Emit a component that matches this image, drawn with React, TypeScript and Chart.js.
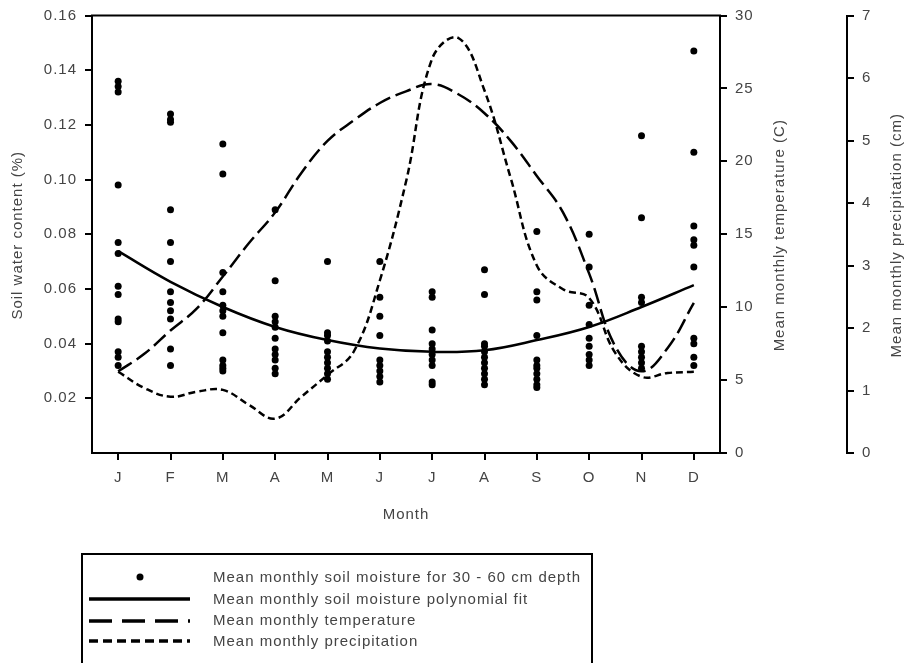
import React, { useEffect, useRef } from "react";
import { Chart, registerables } from "chart.js";

Chart.register(...registerables);

// ---------- data ----------
const monthLabels = ["J", "F", "M", "A", "M", "J", "J", "A", "S", "O", "N", "D"];

// soil moisture observations (30-60 cm) per month
const soilJan = [0.136, 0.134, 0.132, 0.098, 0.077, 0.073, 0.061, 0.058, 0.049, 0.048, 0.037, 0.035, 0.032];
const soilFeb = [0.124, 0.122, 0.121, 0.089, 0.077, 0.070, 0.059, 0.055, 0.052, 0.049, 0.038, 0.032];
const soilMar = [0.113, 0.102, 0.066, 0.059, 0.054, 0.052, 0.050, 0.044, 0.034, 0.032, 0.031, 0.030];
const soilApr = [0.089, 0.063, 0.050, 0.048, 0.046, 0.042, 0.038, 0.036, 0.034, 0.031, 0.029];
const soilMay = [0.070, 0.044, 0.043, 0.041, 0.037, 0.035, 0.033, 0.031, 0.029, 0.027];
const soilJun = [0.070, 0.057, 0.050, 0.043, 0.034, 0.032, 0.030, 0.028, 0.026];
const soilJul = [0.059, 0.057, 0.045, 0.040, 0.038, 0.036, 0.034, 0.032, 0.026, 0.025];
const soilAug = [0.067, 0.058, 0.040, 0.039, 0.037, 0.035, 0.033, 0.031, 0.029, 0.027, 0.025];
const soilSep = [0.081, 0.059, 0.056, 0.043, 0.034, 0.032, 0.031, 0.029, 0.027, 0.025, 0.024];
const soilOct = [0.080, 0.068, 0.054, 0.047, 0.042, 0.039, 0.036, 0.034, 0.032];
const soilNov = [0.116, 0.086, 0.057, 0.055, 0.039, 0.037, 0.035, 0.033, 0.031];
const soilDec = [0.147, 0.110, 0.083, 0.078, 0.076, 0.068, 0.042, 0.040, 0.035, 0.032];
const soilByMonth = [soilJan, soilFeb, soilMar, soilApr, soilMay, soilJun, soilJul, soilAug, soilSep, soilOct, soilNov, soilDec];

// polynomial fit of soil moisture, one value per month
const fitValues = [0.0738, 0.0626, 0.0534, 0.0461, 0.0413, 0.0382, 0.0370, 0.0376, 0.0413, 0.0461, 0.0534, 0.0614];

// curves every half month (x = month index)
const curveX = [0, 0.5, 1, 1.5, 2, 2.5, 3, 3.5, 4, 4.5, 5, 5.5, 6, 6.5, 7, 7.5, 8, 8.5, 9, 9.5, 10, 10.5, 11];
const temperatureC = [5.6, 6.8, 8.4, 9.9, 12.1, 14.4, 16.5, 19.2, 21.4, 22.8, 24.0, 24.8, 25.3, 24.6, 23.3, 21.4, 19.0, 16.5, 12.3, 7.3, 5.6, 7.2, 10.3];
const precipitationCm = [1.30, 1.04, 0.90, 0.98, 1.01, 0.77, 0.55, 0.90, 1.25, 1.62, 2.76, 4.34, 6.31, 6.64, 5.80, 4.40, 3.00, 2.62, 2.48, 1.60, 1.22, 1.28, 1.30];

const soilTicks = [0.02, 0.04, 0.06, 0.08, 0.1, 0.12, 0.14, 0.16];
const tempTicks = [0, 5, 10, 15, 20, 25, 30];
const precipTicks = [0, 1, 2, 3, 4, 5, 6, 7];

const legendLabels = [
  "Mean monthly soil moisture for 30 - 60 cm depth",
  "Mean monthly soil moisture polynomial fit",
  "Mean monthly temperature",
  "Mean monthly precipitation",
];

const FONT = "'Liberation Sans', Arial, sans-serif";
const TEXT = "#444";
const FS = 15;

const spacingPlugin = {
  id: "spacing",
  beforeDraw(chart: any) {
    try {
      chart.ctx.letterSpacing = "1px";
    } catch (e) {}
  },
};

const overlayPlugin = {
  id: "overlay",
  afterDraw(chart: any) {
    const { ctx, chartArea } = chart;
    ctx.save();
    try {
      ctx.letterSpacing = "1px";
    } catch (e) {}
    // top frame line
    ctx.strokeStyle = "#000";
    ctx.lineWidth = 2;
    ctx.beginPath();
    ctx.moveTo(chartArea.left - 1, chartArea.top);
    ctx.lineTo(chartArea.right + 1, chartArea.top);
    ctx.stroke();

    // axis titles
    ctx.fillStyle = TEXT;
    ctx.font = `${FS}px ${FONT}`;
    ctx.textAlign = "center";
    ctx.textBaseline = "middle";
    const midY = (chartArea.top + chartArea.bottom) / 2;
    const vTitle = (text: string, x: number) => {
      ctx.save();
      ctx.translate(x, midY + 1);
      ctx.rotate(-Math.PI / 2);
      ctx.fillText(text, 0, 0);
      ctx.restore();
    };
    vTitle("Soil water content (%)", 18);
    vTitle("Mean monthly temperature (C)", 780);
    vTitle("Mean monthly precipitation (cm)", 897);
    ctx.fillText("Month", (chartArea.left + chartArea.right) / 2, 515);

    // legend box
    const bx = 82, by = 554, bw = 510, bh = 130;
    ctx.lineWidth = 2;
    ctx.strokeStyle = "#000";
    ctx.strokeRect(bx, by, bw, bh);
    const rows = [578, 600, 621, 642];
    ctx.textAlign = "left";
    ctx.fillStyle = TEXT;
    legendLabels.forEach((t, i) => ctx.fillText(t, 213, rows[i]));
    // symbol: dot
    ctx.fillStyle = "#000";
    ctx.beginPath();
    ctx.arc(140, rows[0] - 1, 3.5, 0, Math.PI * 2);
    ctx.fill();
    const lineSym = (y: number, dash: number[]) => {
      ctx.setLineDash(dash);
      ctx.lineWidth = 3.5;
      ctx.beginPath();
      ctx.moveTo(89, y);
      ctx.lineTo(190, y);
      ctx.stroke();
    };
    lineSym(rows[1] - 1, []);
    lineSym(rows[2], [23, 10]);
    lineSym(rows[3] - 1, [9, 5]);
    ctx.setLineDash([]);
    ctx.restore();
  },
};

export default function App() {
  const ref = useRef<HTMLCanvasElement | null>(null);

  useEffect(() => {
    if (!ref.current) return;
    const scatterData: { x: number; y: number }[] = [];
    soilByMonth.forEach((vals, m) => vals.forEach((v) => scatterData.push({ x: m, y: v })));

    const tickCommon = { color: TEXT, font: { family: FONT, size: FS, lineHeight: 1 }, padding: 8 };
    const gridCommon = {
      display: true,
      drawOnChartArea: false,
      drawTicks: true,
      tickLength: 7,
      color: "#000",
      lineWidth: 2,
    };
    const borderCommon = { display: true, color: "#000", width: 2 };

    const chart = new Chart(ref.current, {
      type: "scatter",
      data: {
        datasets: [
          {
            label: legendLabels[0],
            data: scatterData,
            pointRadius: 3.5,
            pointBackgroundColor: "#000",
            pointBorderWidth: 0,
            showLine: false,
            yAxisID: "y",
          },
          {
            label: legendLabels[1],
            type: "line",
            data: fitValues.map((v, i) => ({ x: i, y: v })),
            borderColor: "#000",
            borderWidth: 2.5,
            pointRadius: 0,
            tension: 0.4,
            yAxisID: "y",
          },
          {
            label: legendLabels[2],
            type: "line",
            data: temperatureC.map((v, i) => ({ x: curveX[i], y: v })),
            borderColor: "#000",
            borderWidth: 2.5,
            borderDash: [16, 6],
            pointRadius: 0,
            tension: 0.4,
            yAxisID: "yT",
          },
          {
            label: legendLabels[3],
            type: "line",
            data: precipitationCm.map((v, i) => ({ x: curveX[i], y: v })),
            borderColor: "#000",
            borderWidth: 2.5,
            borderDash: [7, 4],
            pointRadius: 0,
            tension: 0.4,
            yAxisID: "yP",
          },
        ] as any,
      },
      options: {
        animation: false,
        responsive: false,
        devicePixelRatio: 1,
        layout: { padding: { left: 0, right: 0, top: 15, bottom: 140 } },
        plugins: { legend: { display: false }, tooltip: { enabled: false } },
        scales: {
          x: {
            type: "linear",
            position: "bottom",
            min: -0.5,
            max: 11.5,
            afterBuildTicks: (axis: any) => {
              axis.ticks = monthLabels.map((_, i) => ({ value: i }));
            },
            afterFit: (axis: any) => {
              axis.height = 70;
            },
            ticks: { ...tickCommon, padding: 10, callback: (v: any) => monthLabels[v] ?? "" },
            grid: gridCommon,
            border: borderCommon,
          },
          y: {
            type: "linear",
            position: "left",
            min: 0,
            max: 0.16,
            afterBuildTicks: (axis: any) => {
              axis.ticks = soilTicks.map((v) => ({ value: v }));
            },
            afterFit: (axis: any) => {
              axis.width = 92;
            },
            ticks: { ...tickCommon, callback: (v: any) => Number(v).toFixed(2) },
            grid: gridCommon,
            border: borderCommon,
          },
          yT: {
            type: "linear",
            position: "right",
            weight: 1,
            min: 0,
            max: 30,
            afterBuildTicks: (axis: any) => {
              axis.ticks = tempTicks.map((v) => ({ value: v }));
            },
            afterFit: (axis: any) => {
              axis.width = 127;
            },
            ticks: { ...tickCommon },
            grid: gridCommon,
            border: borderCommon,
          },
          yP: {
            type: "linear",
            position: "right",
            weight: 2,
            min: 0,
            max: 7,
            afterBuildTicks: (axis: any) => {
              axis.ticks = precipTicks.map((v) => ({ value: v }));
            },
            afterFit: (axis: any) => {
              axis.width = 58;
            },
            ticks: { ...tickCommon },
            grid: gridCommon,
            border: borderCommon,
          },
        },
      } as any,
      plugins: [spacingPlugin, overlayPlugin],
    });
    return () => chart.destroy();
  }, []);

  return (
    <div style={{ position: "fixed", left: 0, top: 0, width: 905, height: 663, background: "#fff" }}>
      <canvas ref={ref} width={905} height={663} style={{ width: 905, height: 663 }} />
    </div>
  );
}
